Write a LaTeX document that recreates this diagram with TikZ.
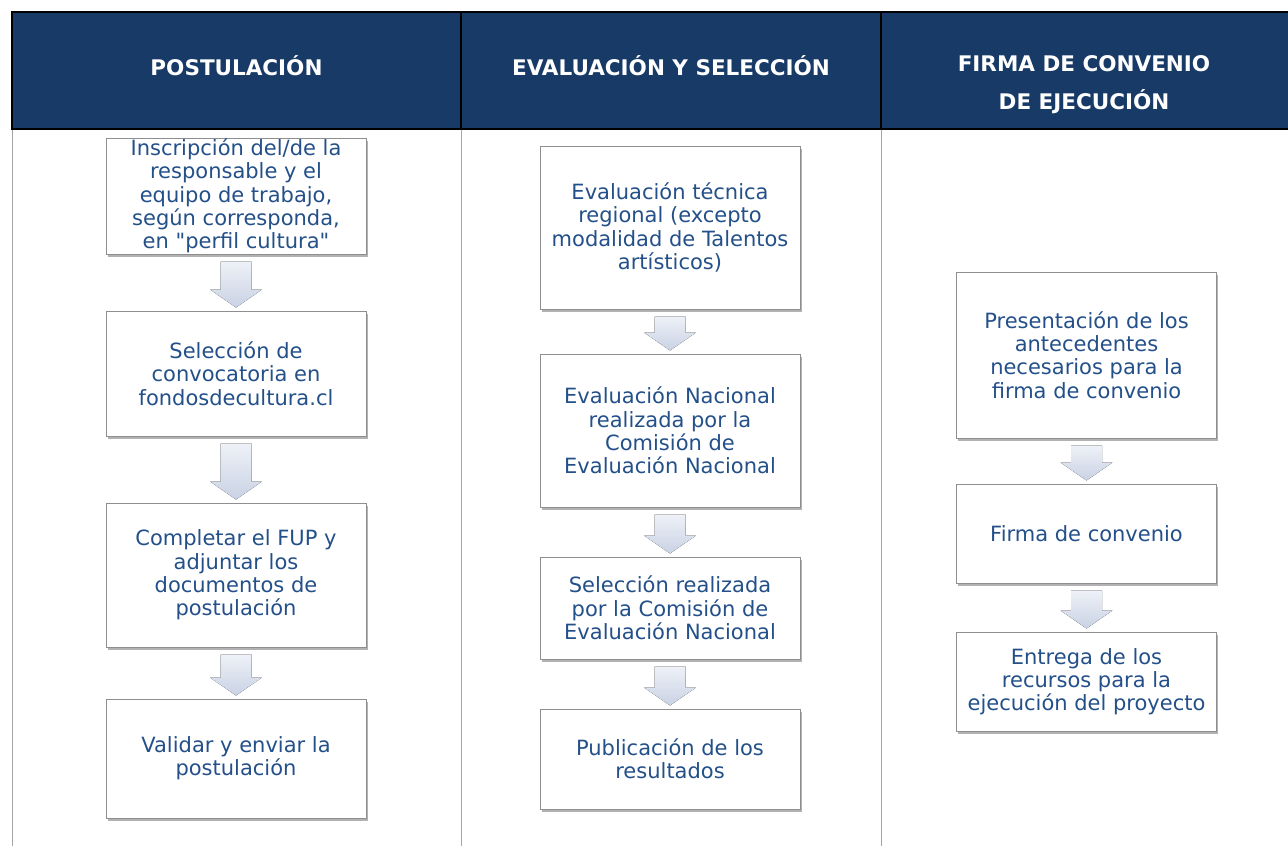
\documentclass[tikz,border=0pt]{standalone}
\usepackage{fontspec}
\setmainfont{DejaVu Sans}[Ligatures=TeXOff]
\usetikzlibrary{calc,shadows}

\definecolor{cabecera}{HTML}{183A66}
\definecolor{textoazul}{HTML}{24508A}
\definecolor{bordegris}{HTML}{8E8E8E}
\definecolor{lineagris}{HTML}{A6A6A6}
\definecolor{flechaarriba}{HTML}{EEF1F7}
\definecolor{flechaabajo}{HTML}{C9D2E4}

% flecha de bloque entre dos pasos
\newcommand{\flecha}[2]{%
  \fill[top color=flechaarriba, bottom color=flechaabajo]
    let \p1=(#1.south), \p2=(#2.north) in
    ({\x1-15.5pt},{\y1-7pt}) -- ({\x1+15.5pt},{\y1-7pt})
    -- ({\x1+15.5pt},{\y2+21pt}) -- ({\x1+26pt},{\y2+21pt})
    -- ({\x2},{\y2+3pt}) -- ({\x1-26pt},{\y2+21pt})
    -- ({\x1-15.5pt},{\y2+21pt}) -- cycle;}

\begin{document}
\begin{tikzpicture}[x=1pt,y=-1pt,
  titulo/.style = {text=white, font=\fontsize{21.5}{38}\selectfont\bfseries, align=center},
  paso/.style = {draw=bordegris, line width=1pt, fill=white, text=textoazul,
    minimum width=260pt, inner ysep=0pt, align=center, font=\fontsize{21}{23.3}\selectfont,
    drop shadow={shadow xshift=1.5pt, shadow yshift=-3pt, opacity=0.3, fill=black}}]
\useasboundingbox (0,0) rectangle (1288,846);

% cabecera
\fill[cabecera] (12,12) rectangle (1288,129);
\draw[line width=2pt] (1288,12) -- (12,12) -- (12,129) -- (1288,129);
\draw[line width=2pt] (461,12) -- (461,129);
\draw[line width=2pt] (881,12) -- (881,129);
\draw[lineagris] (12,130) -- (12,846);
\draw[lineagris] (461,130) -- (461,846);
\draw[lineagris] (881,130) -- (881,846);

\node[titulo] (t1) at (236.5,66) {POSTULACIÓN};
\node[titulo] (t2) at (671,66) {EVALUACIÓN Y SELECCIÓN};
\node[titulo] (t3) at (1084,85) {FIRMA DE CONVENIO\\DE EJECUCIÓN};

% postulacion
\node[paso, minimum height=116pt] (p1) at (236,196) {Inscripción del/de la\\responsable y el\\equipo de trabajo,\\según corresponda,\\en "perfil cultura"};
\node[paso, minimum height=125pt] (p2) at (236,373.5) {Selección de\\convocatoria en\\fondosdecultura.cl};
\node[paso, minimum height=144pt] (p3) at (236,575) {Completar el FUP y\\adjuntar los\\documentos de\\postulación};
\node[paso, minimum height=119pt] (p4) at (236,758.5) {Validar y enviar la\\postulación};

% evaluacion
\node[paso, minimum height=163pt] (e1) at (670,227.5) {Evaluación técnica\\regional (excepto\\modalidad de Talentos\\artísticos)};
\node[paso, minimum height=153pt] (e2) at (670,430.5) {Evaluación Nacional\\realizada por la\\Comisión de\\Evaluación Nacional};
\node[paso, minimum height=102pt] (e3) at (670,608) {Selección realizada\\por la Comisión de\\Evaluación Nacional};
\node[paso, minimum height=100pt] (e4) at (670,759) {Publicación de los\\resultados};

% firma
\node[paso, minimum height=166pt] (f1) at (1086.5,355) {Presentación de los\\antecedentes\\necesarios para la\\firma de convenio};
\node[paso, minimum height=99pt] (f2) at (1086.5,533.5) {Firma de convenio};
\node[paso, minimum height=99pt] (f3) at (1086.5,681.5) {Entrega de los\\recursos para la\\ejecución del proyecto};

\flecha{p1}{p2}
\flecha{p2}{p3}
\flecha{p3}{p4}
\flecha{e1}{e2}
\flecha{e2}{e3}
\flecha{e3}{e4}
\flecha{f1}{f2}
\flecha{f2}{f3}
\end{tikzpicture}
\end{document}
